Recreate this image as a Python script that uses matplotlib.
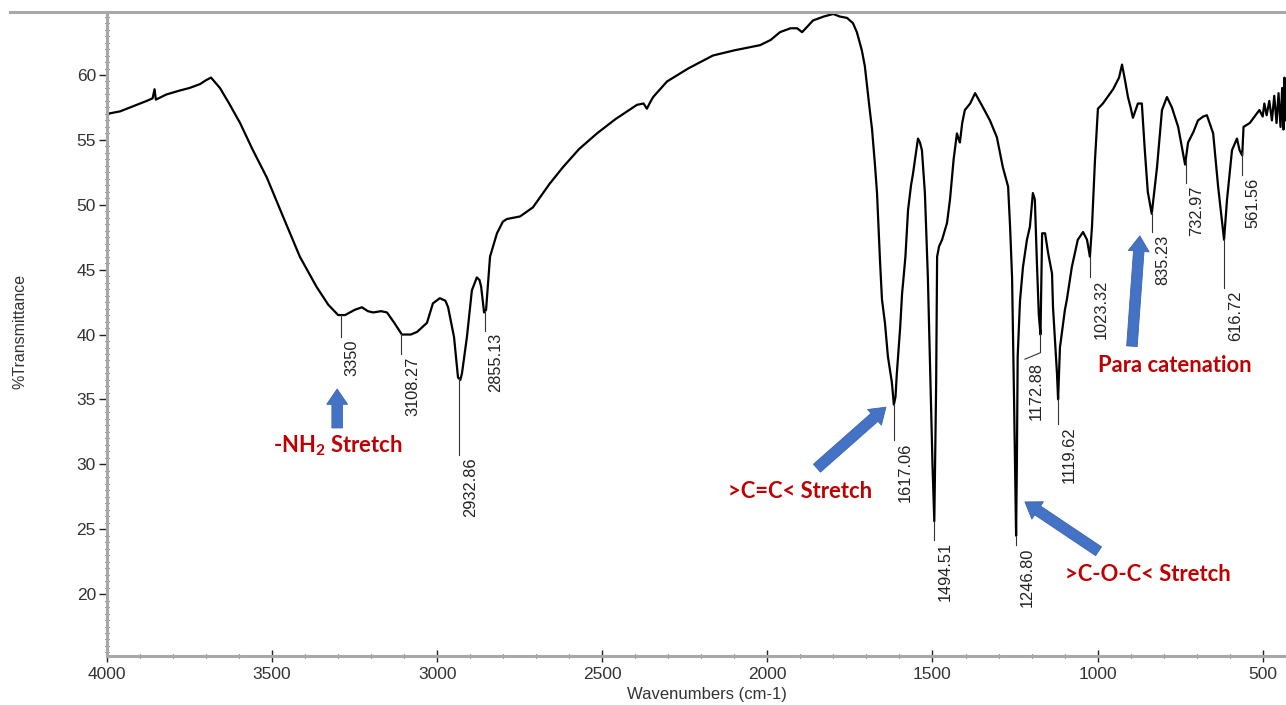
import numpy as np
import matplotlib
matplotlib.use("Agg")
import matplotlib.pyplot as plt
from matplotlib.lines import Line2D

plt.rcParams['font.family'] = ['Liberation Sans', 'DejaVu Sans']
plt.rcParams['mathtext.fontset'] = 'custom'
plt.rcParams['mathtext.rm'] = 'Lato:bold'

# spectrum: wavenumber (cm-1) and %T
wavenumber = [4000, 3960, 3920, 3880, 3862, 3856, 3852, 3820, 3780, 3750,
              3718, 3700, 3685, 3675, 3658, 3630, 3597, 3560, 3516, 3467,
              3416, 3366, 3330, 3300, 3279, 3250, 3228, 3210, 3194, 3170,
              3152, 3130, 3107, 3080, 3061, 3031, 3013, 2992, 2975, 2967,
              2949, 2937, 2930, 2925, 2910, 2895, 2880, 2872, 2867, 2858,
              2852, 2849, 2840, 2819, 2801, 2789, 2749, 2710, 2660, 2619,
              2570, 2516, 2460, 2395, 2375, 2365, 2355, 2346, 2304, 2240,
              2165, 2100, 2022, 1990, 1962, 1930, 1910, 1895, 1880, 1862,
              1830, 1801, 1780, 1759, 1741, 1729, 1714, 1705, 1698, 1690,
              1683, 1674, 1668, 1659, 1653, 1644, 1635, 1623, 1617, 1612,
              1608, 1598, 1592, 1589, 1582, 1574, 1565, 1559, 1550, 1544,
              1538, 1532, 1523, 1514, 1506, 1500, 1494.5, 1489, 1486, 1480,
              1471, 1456, 1447, 1436, 1426, 1420, 1417, 1410, 1402, 1386,
              1371, 1360, 1347, 1326, 1305, 1287, 1271, 1265, 1259, 1253,
              1246.8, 1244.5, 1242, 1235, 1226, 1214, 1205, 1196, 1190, 1184,
              1178, 1172.9, 1168, 1159, 1150, 1138, 1135, 1123, 1119.6, 1114,
              1099, 1093, 1078, 1060, 1044, 1032, 1023.3, 1017, 1008, 999,
              984, 953, 935, 926, 917, 908, 900, 893, 878, 866,
              857, 848, 836, 820, 805, 790, 775, 756, 735, 726,
              710, 696, 680, 669, 650, 635, 617, 608, 593, 578,
              570, 562, 558, 539, 510, 500, 495, 488, 480, 472,
              465, 458, 452, 446, 441, 437, 434, 431, 429.5]
transmittance = [57.0, 57.2, 57.6, 58.0, 58.2, 58.9, 58.1, 58.5, 58.8, 59.0,
                 59.3, 59.6, 59.8, 59.5, 59.0, 57.8, 56.3, 54.3, 52.1, 49.1,
                 46.0, 43.7, 42.3, 41.5, 41.5, 41.9, 42.1, 41.8, 41.7, 41.8,
                 41.7, 40.9, 40.0, 40.0, 40.2, 40.9, 42.4, 42.8, 42.6, 42.1,
                 39.8, 36.7, 36.5, 37.0, 39.8, 43.4, 44.4, 44.2, 43.7, 41.7,
                 41.9, 42.9, 46.0, 47.8, 48.7, 48.9, 49.1, 49.8, 51.6, 52.9,
                 54.3, 55.5, 56.6, 57.7, 57.8, 57.4, 57.9, 58.3, 59.5, 60.5,
                 61.5, 61.9, 62.3, 62.7, 63.3, 63.6, 63.6, 63.3, 63.7, 64.2,
                 64.5, 64.7, 64.5, 64.4, 64.0, 63.3, 61.9, 60.7, 59.1, 57.3,
                 55.8, 53.0, 50.9, 45.7, 42.7, 40.9, 38.3, 36.3, 34.6, 35.2,
                 37.0, 40.5, 43.2, 44.0, 46.0, 49.6, 51.5, 52.4, 54.0, 55.1,
                 54.8, 54.2, 50.9, 44.4, 36.0, 30.0, 25.6, 36.0, 46.0, 46.8,
                 47.3, 48.6, 50.4, 53.5, 55.5, 55.0, 54.8, 56.3, 57.3, 57.8,
                 58.6, 58.1, 57.5, 56.5, 55.2, 52.9, 51.4, 48.3, 44.4, 35.0,
                 24.5, 30.0, 38.3, 42.6, 45.2, 47.3, 48.3, 50.9, 50.4, 45.7,
                 41.5, 40.0, 47.8, 47.8, 46.3, 44.7, 42.1, 37.0, 35.0, 39.0,
                 41.9, 42.7, 45.2, 47.3, 47.9, 47.3, 46.0, 48.3, 53.4, 57.4,
                 57.8, 58.9, 59.8, 60.8, 59.6, 58.3, 57.5, 56.7, 57.8, 57.8,
                 54.2, 51.0, 49.3, 52.9, 57.3, 58.3, 57.5, 56.0, 53.1, 54.8,
                 55.6, 56.5, 56.8, 56.9, 55.5, 51.4, 47.3, 50.4, 54.2, 55.1,
                 54.2, 53.8, 56.0, 56.3, 57.3, 56.8, 57.8, 56.9, 58.0, 56.5,
                 58.4, 56.3, 58.6, 56.0, 59.0, 55.8, 59.8, 56.5, 58.5]

# peak labels
peak_labels = ["3350", "3108.27", "2932.86", "2855.13", "1617.06", "1494.51",
               "1246.80", "1172.88", "1119.62", "1023.32", "835.23", "732.97",
               "616.72", "561.56"]
peak_wn = [3291, 3108.27, 2932.86, 2855.13, 1617.06, 1494.51, 1246.80,
           1172.88, 1119.62, 1023.32, 835.23, 732.97, 616.72, 561.56]
label_wn = [3291, 3108.27, 2932.86, 2855.13, 1617.06, 1494.51, 1246.80,
            1220, 1119.62, 1023.32, 835.23, 732.97, 616.72, 561.56]
label_top = [39.6, 38.3, 30.5, 40.1, 31.7, 24.0, 23.6, 37.9, 32.9, 44.2,
             47.7, 51.5, 43.4, 52.1]

# assignments: text, text position, arrow tail, arrow tip
notes = ["-NH$_\\mathrm{2}$ Stretch", ">C=C< Stretch", ">C-O-C< Stretch", "Para catenation"]
note_xy = [(3300, 31.4), (1901, 27.9), (847, 21.5), (766, 37.6)]
arrow_tail = [(3303, 32.8), (1850, 29.7), (997, 23.3), (896, 39.1)]
arrow_tip = [(3303, 35.8), (1641, 34.4), (1220, 27.1), (872, 47.6)]

fig = plt.figure(figsize=(12.86, 7.05), dpi=100)
ax = fig.add_axes([107 / 1286, 49.3 / 705, 1 - 107 / 1286, (655.7 - 12.7) / 705])

ax.plot(wavenumber, transmittance, color='black', lw=1.6)
ax.set_xlim(4000, 429.4)
ax.set_ylim(15.25, 64.8)

spec_wn = np.array(wavenumber)[::-1]
spec_t = np.array(transmittance)[::-1]
for lab, pw, lw_, top in zip(peak_labels, peak_wn, label_wn, label_top):
    y0 = np.interp(pw, spec_wn, spec_t)
    if lw_ == pw:
        ax.plot([pw, pw], [y0, top + 0.2], color='#333333', lw=0.8)
    else:
        ax.plot([pw, pw, lw_], [y0, top + 0.7, top + 0.2], color='#333333', lw=0.8)
    ax.annotate(lab, xy=(lw_, top), xytext=(11, 0), textcoords='offset pixels',
                rotation=90, ha='center', va='top', fontsize=11.8, color='#222222')

for tail, tip in zip(arrow_tail, arrow_tip):
    ax.annotate('', xy=tip, xytext=tail,
                arrowprops=dict(arrowstyle='simple,head_length=0.55,head_width=0.75,tail_width=0.38',
                                fc='#4472C4', ec='#3B64AD', lw=0.6,
                                shrinkA=0, shrinkB=0, mutation_scale=20))

for txt, xy in zip(notes, note_xy):
    ax.text(xy[0], xy[1], txt, ha='center', va='center', fontsize=15.8,
            color='#C00000', family='Lato', fontweight='bold')

ax.set_xticks(np.arange(4000, 499, -500))
ax.set_xticks(np.arange(4000, 429, -100), minor=True)
ax.set_yticks(np.arange(20, 61, 5))
ax.set_yticks(np.arange(15.5, 64.8, 0.5), minor=True)

for side in ['top', 'right']:
    ax.spines[side].set_visible(False)
for side in ['left', 'bottom']:
    ax.spines[side].set_color('#a8a8a8')
    ax.spines[side].set_linewidth(2.2)

ax.tick_params(axis='y', which='major', direction='out', length=6, width=1,
               color='#222222', labelsize=12.5, labelcolor='#333333', pad=2)
ax.tick_params(axis='x', which='major', direction='inout', length=8, width=1,
               color='#222222', labelsize=12.5, labelcolor='#333333', pad=4)
ax.tick_params(which='minor', direction='inout', length=2.5, width=0.8, color='#333333')

fig.text(707 / 1286, 1 - 695 / 705, "Wavenumbers (cm-1)", ha='center', va='center',
         fontsize=12, color='#333333')
fig.text(20 / 1286, 1 - 331 / 705, "%Transmittance", ha='center', va='center',
         rotation=90, fontsize=11.5, color='#333333')

fig.add_artist(Line2D([10 / 1286, 1], [1 - 12 / 705, 1 - 12 / 705],
                      color='#a8a8a8', lw=2.2, transform=fig.transFigure))

fig.savefig("out.png", dpi=100)
